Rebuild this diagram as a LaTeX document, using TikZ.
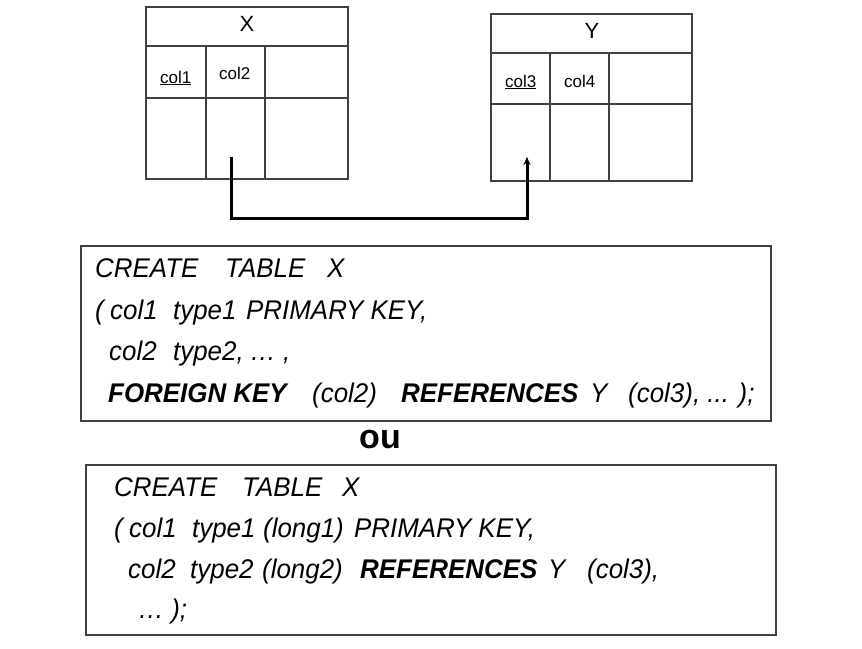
\documentclass[tikz,border=0pt]{standalone}
\usepackage{fontspec}
\setmainfont{Liberation Sans}
\newfontfamily\codefont[FakeStretch=0.96]{Liberation Sans}
\usetikzlibrary{arrows.meta}
\newcommand\wbox[2]{\makebox[#1pt][l]{#2}}
\begin{document}
\begin{tikzpicture}[x=1pt,y=-1pt,
  grid/.style={draw=black!75, line width=1.1pt},
  codebox/.style={draw=black!75, line width=1.1pt},
  code/.style={anchor=base west, inner sep=0pt, font=\codefont\fontsize{27}{30}\selectfont\itshape},
  colname/.style={anchor=base west, inner sep=0pt, font=\fontsize{17}{20}\selectfont},
  tname/.style={inner sep=0pt, font=\fontsize{22}{26}\selectfont},
  link/.style={line width=3pt, -{Stealth[length=8pt,width=7pt]}}
]
\useasboundingbox (0,0) rectangle (862,648);
% Table X
\draw[grid] (146,7) rectangle (348,179);
\draw[grid] (146,46) -- (348,46) (146,98) -- (348,98) (206,46) -- (206,179) (265,46) -- (265,179);
\node[tname] (tx) at (247,24) {X};
\node[colname] (c1) at (160,83) {\underline{col1}};
\node[colname] (c2) at (219,79) {col2};
% Table Y
\draw[grid] (491,14) rectangle (692,181);
\draw[grid] (491,53) -- (692,53) (491,104) -- (692,104) (550,53) -- (550,181) (609,53) -- (609,181);
\node[tname] (ty) at (592,31) {Y};
\node[colname] (c3) at (505,87) {\underline{col3}};
\node[colname] (c4) at (564,87) {col4};
% connector
\coordinate (src) at (231,157);
\coordinate (mid) at (231,218);
\coordinate (dst) at (527,157);
\draw[link] (src) -- (mid) -| (dst);
% first code box
\draw[codebox] (81,246) rectangle (771,421);
\node[code] (a1) at (95,277) {\wbox{130}{CREATE}\wbox{102}{TABLE}X};
\node[code] (a2) at (95,319) {\wbox{15}{(}\wbox{63}{col1}\wbox{73}{type1}PRIMARY KEY,};
\node[code] (a3) at (109,360) {\wbox{64}{col2}\wbox{77}{type2,}\wbox{33}{\char"2026},};
\node[code] (a4) at (108,402) {\wbox{204}{\bfseries FOREIGN KEY}\wbox{89}{(col2)}\wbox{189}{\bfseries REFERENCES}\wbox{38}{Y}(col3), ... );};
% ou
\node[anchor=base, inner sep=0pt, font=\fontsize{34}{36}\selectfont\bfseries] (ou) at (380,448) {ou};
% second code box
\draw[codebox] (86,465) rectangle (776,635);
\node[code] (b1) at (114,496) {\wbox{128}{CREATE}\wbox{100}{TABLE}X};
\node[code] (b2) at (114,537) {\wbox{15}{(}\wbox{63}{col1}\wbox{71}{type1}\wbox{91}{(long1)}PRIMARY KEY,};
\node[code] (b3) at (128,578) {\wbox{62}{col2}\wbox{72}{type2}\wbox{98}{(long2)}\wbox{188}{\bfseries REFERENCES}\wbox{39}{Y}(col3),};
\node[code] (b4) at (138,618) {\char"2026\ );};
\end{tikzpicture}
\end{document}
